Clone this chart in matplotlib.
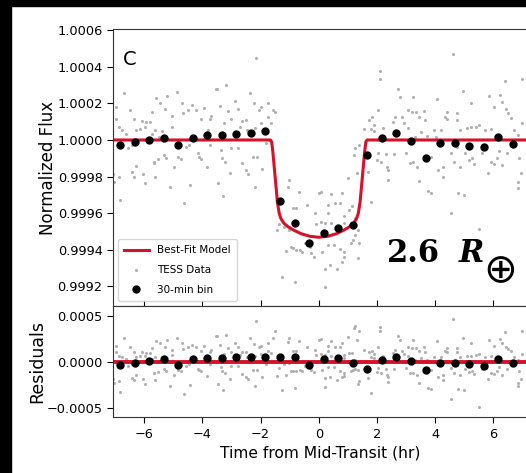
import numpy as np
import matplotlib
matplotlib.use("Agg")
import matplotlib.pyplot as plt
from matplotlib.patches import Rectangle
from matplotlib.ticker import FuncFormatter

plt.rcParams['font.family'] = ['DejaVu Sans']

# TESS points: time from mid-transit (hr) and flux offset (ppm)
tess_time = [
    -6.68, -6.98, -6.95, -6.48, -6.35, -6.06, -5.95, -5.81, -5.74, -5.59, -5.44, -5.30, -5.23,
    -5.05, -4.86, -4.70, -4.66, -4.51, -4.36, -4.23, -4.04, -3.96, -3.75, -3.70, -3.53, -6.88,
    -6.77, -6.63, -6.56, -6.43, -6.29, -6.14, -5.97, -5.74, -5.62, -5.49, -5.40, -5.26, -5.03,
    -4.82, -4.75, -4.57, -4.46, -4.16, -4.11, -4.04, -3.95, -3.79, -3.72, -7.08, -7.04, -6.88,
    -6.83, -6.43, -6.29, -6.36, -6.03, -5.97, -5.67, -5.62, -5.33, -5.10, -4.98, -4.64, -4.43,
    -3.84, -5.65, -5.51,
    -2.15, -3.48, -3.18, -3.41, -3.12, -2.89, -2.78, -3.00, -3.25, -2.63, -2.51, -2.37, -2.22,
    -2.05, -1.99, -1.76, -1.74, -1.56, -1.51, -1.63, -1.97, -2.20, -2.45, -2.71, -3.37, -3.32,
    -3.02, -2.79, -3.23, -3.06, -2.63, -2.50, -2.43, -2.26, -2.12, -1.94, -2.19, -3.46, -3.29,
    -1.80, -1.70, -1.03, -1.05, -0.87, -0.69, -0.79, -0.41, -0.14, -0.08, 0.01, -1.42, -1.37,
    -1.20, -1.01, -0.94, -0.87, -0.77, -0.64, -0.57, -0.48, -0.30, -0.25, -0.17, -1.13, -1.25,
    -0.83, -0.90,
    2.12, 2.10, 2.71, 2.80, 3.23, 2.05, 1.82, 1.71, 1.57, 1.80, 1.89, 1.91, 2.22, 2.62, 2.86,
    2.92, 3.06, 3.08, 3.21, 3.34, 3.46, 2.54, 3.29, 2.03, 2.00, 2.14, 2.34, 2.37, 2.39, 2.31,
    2.60, 2.99, 3.12, 3.25, 3.36, 3.44, 1.78, 1.68, 1.25, 1.20, 1.40, 1.00, 1.32, 0.79, 0.42,
    0.74, 0.56, 0.31, 0.06, 1.04, 1.13, 0.88, 0.31, 0.20, 0.06, 0.42, 0.86, 0.95, 1.23, 1.34,
    1.26, 1.40, 0.33, 0.52, 0.10, 0.74, 0.86, 1.11, 1.17, 0.79, 0.63, 0.37, 0.20, 1.34, 0.22,
    0.88,
    4.63, 4.05, 4.97, 5.22, 5.86, 6.23, 6.31, 6.40, 6.98, 3.62, 3.64, 4.33, 4.42, 4.42, 4.74,
    4.74, 5.11, 5.22, 5.40, 5.51, 6.03, 6.43, 6.51, 6.60, 6.71, 6.83, 6.97, 5.70, 5.93, 4.86,
    3.96, 4.02, 4.21, 3.73, 3.53, 3.87, 4.10, 4.26, 4.28, 3.76, 3.85, 4.54, 4.65, 4.86, 5.04,
    5.16, 5.28, 5.34, 5.62, 5.80, 5.91, 6.01, 6.12, 6.20, 6.31, 6.46, 6.88, 6.94, 6.85, 6.83,
    4.79, 5.00, 4.54, 5.52, 4.74,
]
tess_ppm = [
    259, 179, 113, 164, 113, 106, 99, 100, 153, 228, 205, 168, 241,
    131, 263, 205, 146, 164, 190, 164, 117, 173, 113, 131, 278, 69,
    55, 33, -46, -27, 55, 62, 69, 33, 55, 15, 51, -100, 73,
    -91, -102, -40, -27, -73, -91, -102, 7, 55, -27, -186, -228, -205,
    -329, -173, -142, -201, -186, -237, -124, -201, -80, -256, -146, -347, -248,
    -150, -119, -106,
    449, 278, 299, 186, 157, 212, 168, 113, 91, 106, 110, 259, 201,
    164, 179, 205, 124, 164, 153, 91, 91, 64, 55, 73, -55, -100,
    -46, -46, -119, -183, -128, -164, -186, -91, -91, -161, -256, -234, -307,
    -18, 0, -219, -256, -374, -283, -374, -356, -402, -457, -292, -493, -457,
    -475, -493, -584, -593, -603, -599, -612, -566, -588, -617, -639, -606, -752,
    -776, -447,
    376, 336, 281, 237, 234, 164, 124, 110, 58, 58, 82, 47, 64, 128, 124,
    91, 64, 164, 153, 153, 124, 100, 18, -69, -110, -119, -146, -164, -219, -77,
    -77, -69, -124, -119, -146, -223, -338, -173, -46, -82, -27, -210, -183, -289, -296,
    -343, -347, -356, -283, -383, -361, -416, -402, -453, -448, -453, -453, -484, -429, -493,
    -520, -562, -575, -575, -612, -595, -612, -566, -548, -667, -708, -685, -708, -648, -803,
    -639,
    471, 226, 266, 205, 241, 246, 210, 323, 332, 161, 110, 124, 153, 113, 150,
    110, 64, 69, 73, 82, 179, 168, 146, 119, 55, 26, 91, 55, 62, 55,
    55, 15, 55, 22, 46, -91, -164, -146, -201, -278, -292, -69, -119, -146, -73,
    -110, -100, -131, -73, -183, -119, -131, -100, -58, -137, -73, -100, -183, -228, -265,
    -289, -299, -398, -489, -37,
]

# 30-min bins
bin_time = [-6.83, -6.33, -5.83, -5.33, -4.83, -4.33, -3.83, -3.33, -2.83, -2.33,
            -1.83, -1.33, -0.83, -0.33, 0.17, 0.67, 1.17, 1.67, 2.17, 2.67,
            3.17, 3.67, 4.17, 4.67, 5.17, 5.67, 6.17, 6.67]
bin_ppm = [-29, -10, 0, 13, -29, 13, 26, 26, 30, 38,
           51, -334, -453, -563, -508, -482, -467, -84, 11, 40,
           -4, -97, -18, -18, -31, -40, 18, -24]
bin_resid_ppm = [-33, -8, 11, 33, -33, 29, 47, 47, 51, 58,
                 58, 58, 58, -33, 29, 47, -8, -76, 22, 58,
                 11, -87, -8, -8, -25, -40, 29, -8]

# best-fit transit model
model_time = [-7.3, -1.66, -1.62, -1.58, -1.50, -1.42, -1.36, -1.30, -1.20, -1.05, -0.85,
              -0.60, -0.30, 0.0, 0.30, 0.60, 0.85, 1.05, 1.20, 1.30, 1.36, 1.42, 1.50,
              1.58, 1.62, 1.66, 7.3]
model_ppm = [0, 0, -10, -60, -200, -340, -400, -430, -455, -475, -494,
             -513, -527, -532, -527, -513, -494, -475, -455, -430, -400, -340, -200,
             -60, -10, 0, 0]

flux_ticks = [0.9992, 0.9994, 0.9996, 0.9998, 1.0000, 1.0002, 1.0004, 1.0006]
resid_ticks = [-0.0005, 0.0, 0.0005]
time_ticks = [-6, -4, -2, 0, 2, 4, 6]

t = np.array(tess_time)
flux = 1 + np.array(tess_ppm) * 1e-6
mt = np.array(model_time)
mflux = 1 + np.array(model_ppm) * 1e-6
resid = flux - np.interp(t, mt, mflux)
bflux = 1 + np.array(bin_ppm) * 1e-6
bres = np.array(bin_resid_ppm) * 1e-6

RED = '#d6122b'
GRAY = '#b0b0b0'
W, H = 526, 473

fig = plt.figure(figsize=(W / 100, H / 100), dpi=100)
fig.patches.append(Rectangle((0, 0), 11 / W, 1, transform=fig.transFigure, color='black', zorder=10))
fig.patches.append(Rectangle((0, 1 - 6 / H), 1, 6 / H, transform=fig.transFigure, color='black', zorder=10))

ax1 = fig.add_axes([113 / W, 1 - 306 / H, 415 / W, 277 / H])
ax2 = fig.add_axes([113 / W, 1 - 417 / H, 415 / W, 111 / H], sharex=ax1)

h_data, = ax1.plot(t, flux, 'o', color=GRAY, ms=2.2, mew=0, label='TESS Data', zorder=1)
h_model, = ax1.plot(mt, mflux, '-', color=RED, lw=2.2, label='Best-Fit Model', zorder=2)
h_bin, = ax1.plot(bin_time, bflux, 'o', color='black', ms=5, label='30-min bin', zorder=3)

ax2.plot(t, resid, 'o', color=GRAY, ms=2.2, mew=0, zorder=1)
ax2.axhline(0, color=RED, lw=2.8, zorder=2)
ax2.plot(bin_time, bres, 'o', color='black', ms=5, zorder=3)

ax1.set_xlim(-7.07, 7.19)
ax1.set_ylim(0.999092, 1.000607)
ax2.set_ylim(-0.000598, 0.000609)

ax1.set_yticks(flux_ticks)
ax1.yaxis.set_major_formatter(FuncFormatter(lambda v, p: f'{v:.4f}'))
ax2.set_yticks(resid_ticks)
ax2.yaxis.set_major_formatter(FuncFormatter(
    lambda v, p: f'{v:.4f}'.replace('-', '\u2212') if abs(v) > 1e-9 else '0.0000'))
ax2.set_xticks(time_ticks)

ax1.tick_params(axis='x', direction='in', labelbottom=False, length=4)
for ax in (ax1, ax2):
    ax.tick_params(axis='y', labelsize=9.3, length=4)
    for s in ax.spines.values():
        s.set_color('#333333')
        s.set_linewidth(0.8)
ax2.tick_params(axis='x', labelsize=9.3, length=4.5)

ax1.set_ylabel('Normalized Flux', fontsize=12)
ax2.set_ylabel('Residuals', fontsize=12.5)
ax1.yaxis.set_label_coords(-0.135, 0.5)
ax2.yaxis.set_label_coords(-0.162, 0.5)
ax2.set_xlabel('Time from Mid-Transit (hr)', fontsize=11.2, labelpad=3)

ax1.text(0.024, 0.925, 'C', transform=ax1.transAxes, fontsize=14, va='top', ha='left')

ax1.text(0.660, 0.159, '2.6', transform=ax1.transAxes, fontsize=22, family='DejaVu Serif',
         weight='bold', va='baseline', ha='left')
ax1.text(0.832, 0.159, 'R', transform=ax1.transAxes, fontsize=22, family='DejaVu Serif',
         weight='bold', style='italic', va='baseline', ha='left')
ax1.text(0.934, 0.126, '\u2295', transform=ax1.transAxes, fontsize=29, family='DejaVu Sans',
         va='center', ha='center')

ax1.legend(handles=[h_model, h_data, h_bin], loc='lower left', fontsize=7.5,
           handlelength=2.4, labelspacing=0.95, borderpad=0.6, borderaxespad=0.45)

fig.savefig('out.png', dpi=100)
